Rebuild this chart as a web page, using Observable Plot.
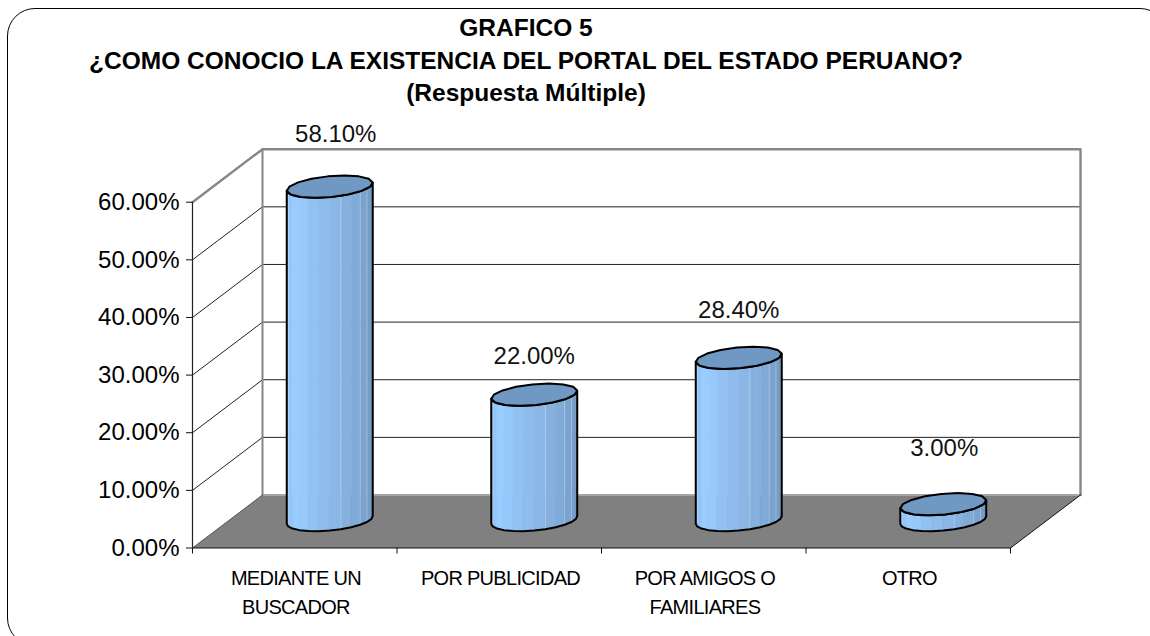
<!DOCTYPE html>
<html>
<head>
<meta charset="utf-8">
<script src="https://cdn.jsdelivr.net/npm/d3@7"></script>
<script src="https://cdn.jsdelivr.net/npm/@observablehq/plot@0.6"></script>
<style>
  html, body { margin: 0; padding: 0; background: #fff; }
  #page { position: relative; width: 1150px; height: 636px; overflow: hidden; font-family: "Liberation Sans", Arial, sans-serif; }
  #border { position: absolute; left: 7px; top: 8px; width: 1161px; height: 638px; box-sizing: border-box; border: 1.5px solid #000; border-radius: 28px; }
  #title { position: absolute; left: 0; top: 12px; width: 1052px; text-align: center; font-weight: bold; font-size: 24.5px; line-height: 32.5px; color: #000; }
  #chart { position: absolute; left: 0; top: 108px; }
  #chart svg { background: transparent; display: block; }
  .cat text, .cat { letter-spacing: -0.7px; }
</style>
</head>
<body>
<div id="page">
  <div id="border"></div>
  <div id="title">GRAFICO 5<br>¿COMO CONOCIO LA EXISTENCIA DEL PORTAL DEL ESTADO PERUANO?<br>(Respuesta Múltiple)</div>
  <div id="chart"></div>
</div>
<script>
const categories = ["MEDIANTE UN\nBUSCADOR", "POR PUBLICIDAD", "POR AMIGOS O\nFAMILIARES", "OTRO"];
const values = [58.1, 22.0, 28.4, 3.0];
const valueLabels = ["58.10%", "22.00%", "28.40%", "3.00%"];
const yTicks = [0, 10, 20, 30, 40, 50, 60];

// Layout of the oblique projection
const pxPerCat = 204.5, pxPerUnit = 5.763;
const depthX = 70 / pxPerCat, depthY = 53 / pxPerUnit;
const labelLift = [52, 38, 48, 56].map((p) => p / pxPerUnit);
const labelShift = [6, 0, 0, 1].map((p) => p / pxPerCat);
const capA = 40.4 / pxPerCat, capB = 0.21, baseLift = 0.25;
const t0 = Math.atan2(capB * depthX * pxPerCat, capA * pxPerCat);
const nCats = categories.length;
const P = (c, v, d) => ({x: c + d * depthX, y: v + d * depthY});
const ring = (c, v, t) => P(c + capA * Math.cos(t), v, 0.5 + capB * Math.sin(t));

const stripColors = ["#8ebff1", "#93c5f8", "#99ccff", "#97c9fc", "#92c1f3", "#8fbcec", "#8bb7e6", "#86b1df", "#80aad7", "#7ba3cf", "#759dc8", "#6f96c0"];
const sheenStrips = [1, 7, 9, 10];
const strips = [], outlines = [], caps = [], sheen = [];
values.forEach((v, i) => {
  const c = i + 0.5;
  const n = stripColors.length;
  const a = (k) => t0 + Math.PI + (k / n) * Math.PI;
  for (let k = 0; k < n; k++) {
    const id = `${i}-${k}`;
    const corners = [ring(c, baseLift, a(k)), ring(c, baseLift, a(k + 1)), ring(c, v, a(k + 1)), ring(c, v, a(k))];
    corners.forEach((p) => strips.push({...p, id, color: stripColors[k]}));
  }
  for (const k of sheenStrips) {
    sheen.push({...ring(c, baseLift, a(k)), id: `${i}-${k}`}, {...ring(c, v, a(k)), id: `${i}-${k}`});
  }
  for (let k = 0; k <= n; k++) outlines.push({...ring(c, baseLift, a(k)), id: i});
  for (let k = n; k >= 0; k--) outlines.push({...ring(c, v, a(k)), id: i});
  for (let k = 0; k < 16; k++) caps.push({...ring(c, v, (k / 16) * 2 * Math.PI), id: i});
});

const floor = [P(0, 0, 0), P(0, 0, 1), P(nCats, 0, 1), P(nCats, 0, 0)];
const grid = yTicks.slice(1, -1).flatMap((v) => [
  {...P(0, v, 0), v}, {...P(0, v, 1), v}, {...P(nCats, v, 1), v}
]);
const wallEdge = [P(0, 60, 0), P(0, 60, 1), P(nCats, 60, 1), P(nCats, 0, 1)];
const wallBack = [P(0, 60, 1), P(0, 0, 1)];
const floorBack = [P(0, 0, 1), P(nCats, 0, 1)];
const floorRight = [P(nCats, 0, 0), P(nCats, 0, 1)];
const floorLeft = [P(0, 0, 0), P(0, 0, 1)];

const chart = Plot.plot({
  width: 1150,
  height: 528,
  marginLeft: 192,
  marginRight: 140,
  marginTop: 93.7,
  marginBottom: 88.5,
  x: {domain: [0, nCats], axis: null},
  y: {domain: [0, 60], axis: null},
  color: {type: "identity"},
  style: {fontFamily: '"Liberation Sans", Arial, sans-serif', color: "#000", overflow: "visible"},
  marks: [
    Plot.line(floor, {x: "x", y: "y", curve: "linear-closed", fill: "#808080", stroke: "none"}),
    Plot.line(grid, {x: "x", y: "y", z: "v", stroke: "#222", strokeWidth: 1}),
    Plot.line(floorBack, {x: "x", y: "y", stroke: "#a6a6a6", strokeWidth: 2}),
    Plot.line(wallBack, {x: "x", y: "y", stroke: "#868686", strokeWidth: 2}),
    Plot.line(wallEdge, {x: "x", y: "y", stroke: "#868686", strokeWidth: 2.4}),
    Plot.line(floorRight, {x: "x", y: "y", stroke: "#111", strokeWidth: 1}),
    Plot.line(floorLeft, {x: "x", y: "y", stroke: "#555", strokeWidth: 1}),
    Plot.ruleX([0], {y1: 0, y2: 60, stroke: "#222", strokeWidth: 1.2}),
    Plot.ruleY([0], {x1: 0, x2: nCats, stroke: "#111", strokeWidth: 1.2}),
    Plot.axisY({ticks: yTicks, tickFormat: (d) => d.toFixed(2) + "%", tickSize: 6, tickPadding: 7, fontSize: 24, label: null, anchor: "left", stroke: "#111"}),
    Plot.axisX({ticks: d3.range(nCats + 1), tickFormat: () => "", tickSize: 6, label: null, anchor: "bottom", stroke: "#111"}),
    Plot.line(strips, {x: "x", y: "y", z: "id", curve: "linear-closed", fill: "color", stroke: "color", strokeWidth: 0.6}),
    Plot.line(sheen, {x: "x", y: "y", z: "id", stroke: "#fff", strokeOpacity: 0.3, strokeWidth: 1}),
    Plot.line(outlines, {x: "x", y: "y", z: "id", curve: "linear-closed", fill: "none", stroke: "#000", strokeWidth: 2}),
    Plot.line(caps, {x: "x", y: "y", z: "id", curve: "linear-closed", fill: "#6f99c2", stroke: "#000", strokeWidth: 2}),
    Plot.text(values, {
      x: (v, i) => P(i + 0.5, v, 0.5).x + labelShift[i],
      y: (v, i) => P(i + 0.5, v, 0.5).y + labelLift[i],
      text: (v, i) => valueLabels[i],
      fontSize: 24,
      fill: "#111"
    }),
    Plot.text(categories, {
      x: (d, i) => i + 0.5 + 1.2 / pxPerCat,
      y: () => 0,
      dy: 16,
      text: (d) => d,
      lineHeight: 1.45,
      lineAnchor: "top",
      fontSize: 20,
      fill: "#000",
      className: "cat"
    })
  ]
});
document.getElementById("chart").appendChild(chart);
</script>
</body>
</html>
